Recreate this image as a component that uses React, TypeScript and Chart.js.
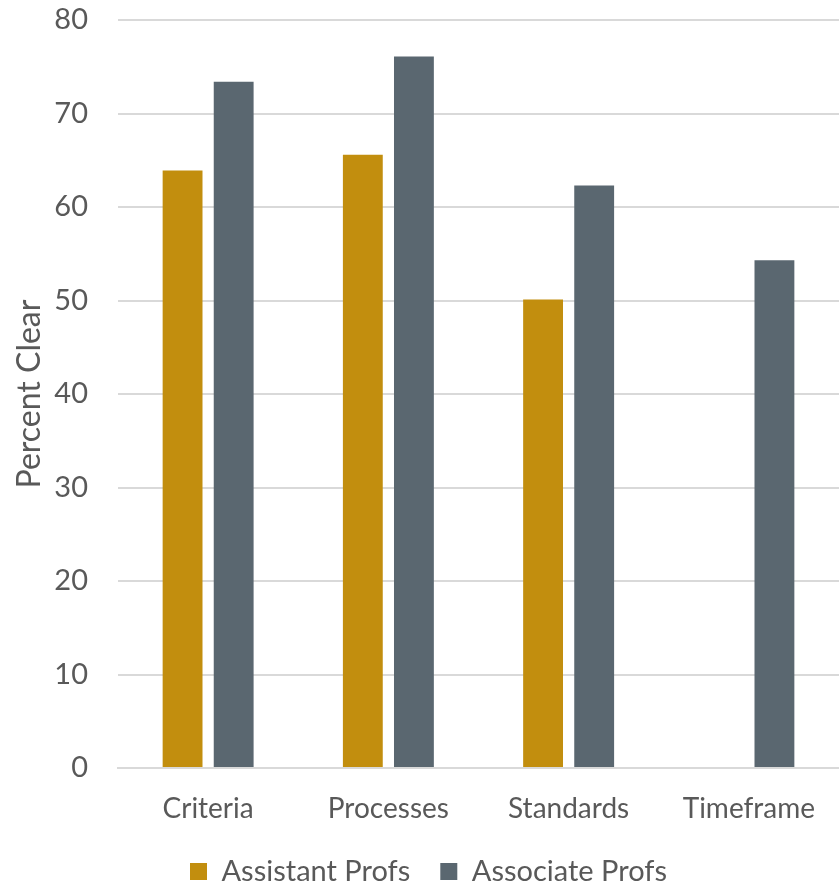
import React, { useEffect, useRef } from "react";
import { Chart, registerables } from "chart.js";

Chart.register(...registerables);

const categories = ["Criteria", "Processes", "Standards", "Timeframe"];
const assistantProfs = [63.9, 65.6, 50.1, null];
const associateProfs = [73.4, 76.1, 62.3, 54.3];
const yTicks = [0, 10, 20, 30, 40, 50, 60, 70, 80];

const FONT = "Lato, 'Open Sans', sans-serif";
const TEXT = "#595959";
const LEGEND_PAD = 30;
const LEGEND_TOP = 827;
const LEGEND_DX = 9;

const legendShift = {
  id: "legendShift",
  afterLayout(chart: any) {
    const l = chart.legend;
    if (!l) return;
    const dy = LEGEND_TOP - l.top;
    l.top += dy;
    l.bottom += dy;
    l.left += LEGEND_DX;
    l.right += LEGEND_DX;
  },
};

export default function App() {
  const ref = useRef<HTMLCanvasElement>(null);
  useEffect(() => {
    if (!ref.current) return;
    const chart = new Chart(ref.current, {
      type: "bar",
      data: {
        labels: categories,
        datasets: [
          {
            label: "Assistant Profs",
            data: assistantProfs,
            backgroundColor: "#C28E0E",
            categoryPercentage: 0.567,
            barPercentage: 0.78,
          },
          {
            label: "Associate Profs",
            data: associateProfs,
            backgroundColor: "#5A6770",
            categoryPercentage: 0.567,
            barPercentage: 0.78,
          },
        ],
      },
      plugins: [legendShift],
      options: {
        animation: false,
        responsive: false,
        maintainAspectRatio: false,
        layout: { padding: { top: 20, left: 0, right: 0, bottom: -20 } },
        plugins: {
          tooltip: { enabled: false },
          legend: {
            position: "bottom",
            labels: {
              font: { family: FONT, size: 29 },
              color: TEXT,
              boxWidth: 17,
              boxHeight: 17,
              padding: LEGEND_PAD,
            },
          },
        },
        scales: {
          x: {
            grid: { display: false, drawTicks: false },
            border: { display: true, color: "#d9d9d9", width: 2 },
            ticks: {
              font: { family: FONT, size: 28 },
              color: TEXT,
              padding: 24,
              autoSkip: false,
              maxRotation: 0,
            },
            afterFit: (s: any) => {
              s.height = 67;
              s.paddingLeft = 0;
              s.paddingRight = 0;
            },
          },
          y: {
            min: 0,
            max: 80,
            afterBuildTicks: (s: any) => {
              s.ticks = yTicks.map((v) => ({ value: v }));
            },
            grid: { color: "#d9d9d9", lineWidth: 2, drawTicks: false },
            border: { display: false },
            ticks: {
              font: { family: FONT, size: 29 },
              color: TEXT,
              padding: 30,
            },
            title: {
              display: true,
              text: "Percent Clear",
              font: { family: FONT, size: 32 },
              color: TEXT,
              padding: { top: 10, bottom: 0 },
            },
            afterFit: (s: any) => {
              s.width = 118;
              s.paddingTop = 0;
              s.paddingBottom = 0;
            },
          },
        },
      },
    });
    return () => chart.destroy();
  }, []);
  return (
    <div style={{ position: "fixed", left: 0, top: 0, width: 839, height: 884, background: "#fff" }}>
      <canvas ref={ref} width={839} height={884} style={{ width: 839, height: 884 }} />
    </div>
  );
}
